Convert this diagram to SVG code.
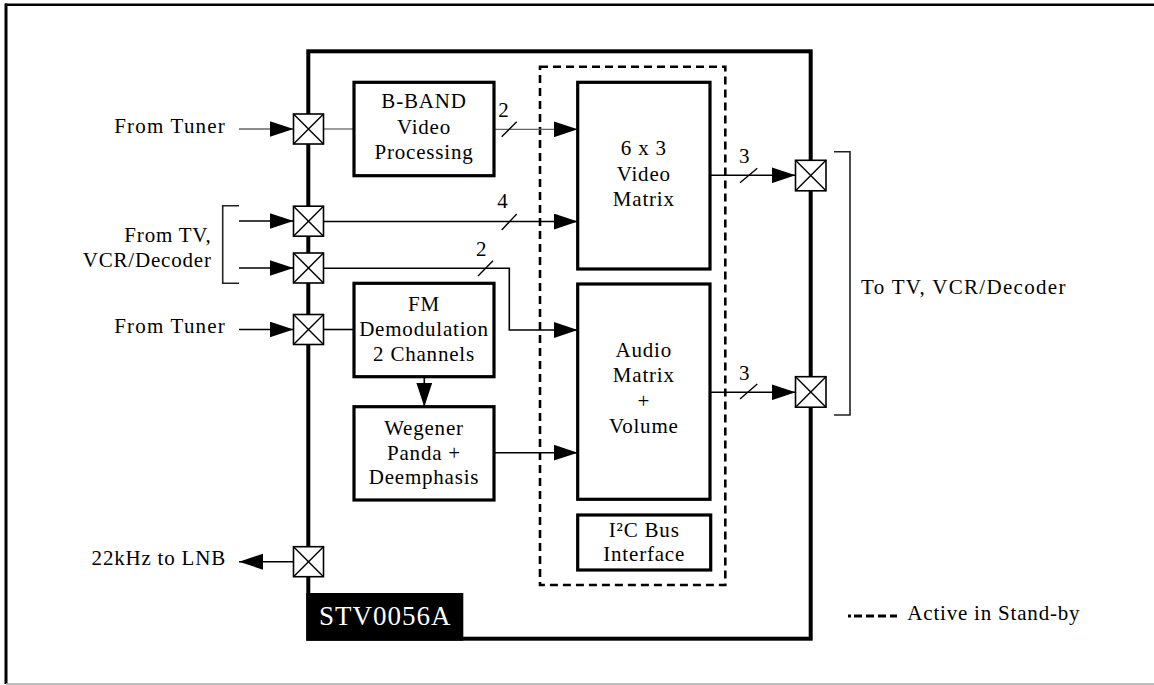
<svg xmlns="http://www.w3.org/2000/svg" width="1154" height="685" viewBox="0 0 1154 685">
<defs>
<marker id="ah" markerUnits="userSpaceOnUse" markerWidth="24" markerHeight="16" refX="24" refY="8" orient="auto">
<path d="M0,0 L24,8 L0,16 z" fill="#000"/>
</marker>
<style>
text{font-family:"Liberation Serif","Times New Roman",serif;font-size:21px;fill:#000;letter-spacing:0.8px}
.c{text-anchor:middle}
.e{text-anchor:end}
.box{fill:#fff;stroke:#000;stroke-width:3.2}
.port rect{fill:#fff;stroke:#000;stroke-width:1.6}
.port line{stroke:#000;stroke-width:1.4}
.w{fill:none;stroke:#000;stroke-width:1.6}
.g{fill:none;stroke:#666;stroke-width:1.3}
.sl{stroke:#000;stroke-width:1.4}
.br{fill:none;stroke:#222;stroke-width:1.6}
</style>
</defs>
<rect width="1154" height="685" fill="#fff"/>
<!-- outer frame -->
<line x1="5" y1="4.7" x2="1154" y2="4.7" stroke="#000" stroke-width="2.4"/>
<line x1="6" y1="3.5" x2="6" y2="684" stroke="#000" stroke-width="3"/>
<line x1="6" y1="684" x2="1154" y2="684" stroke="#aaa" stroke-width="1.5"/>

<!-- chip -->
<g id="chip">
<rect x="308.3" y="51.3" width="502.4" height="587.4" fill="none" stroke="#000" stroke-width="4"/>
<rect x="306.3" y="593" width="157" height="47.7" fill="#000"/>
<text x="319" y="625" style="font-size:27px;fill:#fff;letter-spacing:1px">STV0056A</text>
</g>

<!-- dashed standby region -->
<rect id="standby" x="540" y="66.7" width="185.3" height="518.3" fill="none" stroke="#000" stroke-width="2.6" stroke-dasharray="8 5"/>

<!-- connectors -->
<g id="connectors">
<line class="g" x1="239" y1="129" x2="293.5" y2="129" marker-end="url(#ah)"/>
<line class="g" x1="323.5" y1="129" x2="354" y2="129"/>
<line class="g" x1="494" y1="129.3" x2="577.7" y2="129.3" marker-end="url(#ah)"/>
<line class="sl" x1="501.7" y1="136.7" x2="516.7" y2="121.7"/>
<text class="c" x="504" y="117">2</text>

<polyline class="br" points="239,205.7 222.7,205.7 222.7,283.3 239,283.3"/>
<line class="w" x1="239" y1="221" x2="293.5" y2="221" marker-end="url(#ah)"/>
<line class="w" x1="239" y1="268" x2="293.5" y2="268" marker-end="url(#ah)"/>

<line class="w" x1="323.5" y1="221.5" x2="577.7" y2="221.5" marker-end="url(#ah)"/>
<line class="sl" x1="501.7" y1="230" x2="516.7" y2="214"/>
<text class="c" x="503" y="208">4</text>

<polyline class="w" points="323.5,268.3 509.3,268.3 509.3,330 577.7,330" marker-end="url(#ah)"/>
<line class="sl" x1="478" y1="276" x2="493" y2="260.7"/>
<text class="c" x="481.7" y="256">2</text>

<line class="w" x1="239" y1="329.5" x2="293.5" y2="329.5" marker-end="url(#ah)"/>
<line class="w" x1="323.5" y1="329.5" x2="354" y2="329.5"/>
<line class="w" x1="424.3" y1="376.7" x2="424.3" y2="406.7" marker-end="url(#ah)"/>
<line class="w" x1="494" y1="452.7" x2="577.7" y2="452.7" marker-end="url(#ah)"/>

<line class="w" x1="710" y1="175.3" x2="795.5" y2="175.3" marker-end="url(#ah)"/>
<line class="sl" x1="740" y1="182.7" x2="757.3" y2="168.3"/>
<text class="c" x="744.7" y="163.3">3</text>
<line class="w" x1="710" y1="392.3" x2="795.5" y2="392.3" marker-end="url(#ah)"/>
<line class="sl" x1="740" y1="399" x2="757.3" y2="384"/>
<text class="c" x="744.7" y="380">3</text>
<polyline class="br" points="834,151.7 850,151.7 850,415 834,415"/>

<line class="w" x1="293.5" y1="561.7" x2="239" y2="561.7" marker-end="url(#ah)"/>
</g>

<!-- ports -->
<g id="port-tuner1" class="port"><rect x="293.5" y="114" width="30" height="30"/><line x1="293.5" y1="114" x2="323.5" y2="144"/><line x1="323.5" y1="114" x2="293.5" y2="144"/></g>
<g id="port-tv1" class="port"><rect x="293.5" y="206.2" width="30" height="30"/><line x1="293.5" y1="206.2" x2="323.5" y2="236.2"/><line x1="323.5" y1="206.2" x2="293.5" y2="236.2"/></g>
<g id="port-tv2" class="port"><rect x="293.5" y="253" width="30" height="30"/><line x1="293.5" y1="253" x2="323.5" y2="283"/><line x1="323.5" y1="253" x2="293.5" y2="283"/></g>
<g id="port-tuner2" class="port"><rect x="293.5" y="314.5" width="30" height="30"/><line x1="293.5" y1="314.5" x2="323.5" y2="344.5"/><line x1="323.5" y1="314.5" x2="293.5" y2="344.5"/></g>
<g id="port-lnb" class="port"><rect x="293.5" y="546.7" width="30" height="30"/><line x1="293.5" y1="546.7" x2="323.5" y2="576.7"/><line x1="323.5" y1="546.7" x2="293.5" y2="576.7"/></g>
<g id="port-out1" class="port"><rect x="795.5" y="160.3" width="30.5" height="30.5"/><line x1="795.5" y1="160.3" x2="826" y2="190.8"/><line x1="826" y1="160.3" x2="795.5" y2="190.8"/></g>
<g id="port-out2" class="port"><rect x="795.5" y="376.7" width="30.5" height="30.5"/><line x1="795.5" y1="376.7" x2="826" y2="407.2"/><line x1="826" y1="376.7" x2="795.5" y2="407.2"/></g>

<!-- blocks -->
<g id="bband">
<rect class="box" x="354" y="82.3" width="140" height="93.4"/>
<text class="c" x="424" y="108">B-BAND</text>
<text class="c" x="424" y="134">Video</text>
<text class="c" x="424" y="159">Processing</text>
</g>
<g id="video-matrix">
<rect class="box" x="577.7" y="82.3" width="132.3" height="186.7"/>
<text class="c" x="643.8" y="155">6 x 3</text>
<text class="c" x="643.8" y="180.5">Video</text>
<text class="c" x="643.8" y="206">Matrix</text>
</g>
<g id="fm">
<rect class="box" x="354" y="283.3" width="140" height="93.4"/>
<text class="c" x="424" y="310.7">FM</text>
<text class="c" x="424" y="335.7">Demodulation</text>
<text class="c" x="424" y="360.7">2 Channels</text>
</g>
<g id="wegener">
<rect class="box" x="354" y="406.7" width="140" height="93.3"/>
<text class="c" x="424" y="435">Wegener</text>
<text class="c" x="424" y="460">Panda +</text>
<text class="c" x="424" y="484">Deemphasis</text>
</g>
<g id="audio-matrix">
<rect class="box" x="577.7" y="284" width="132.3" height="215.3"/>
<text class="c" x="643.8" y="357">Audio</text>
<text class="c" x="643.8" y="382">Matrix</text>
<text class="c" x="643.8" y="408">+</text>
<text class="c" x="643.8" y="433">Volume</text>
</g>
<g id="i2c">
<rect class="box" x="577.7" y="515" width="133" height="55"/>
<text class="c" x="644.2" y="536.7">I²C Bus</text>
<text class="c" x="644.2" y="561">Interface</text>
</g>

<!-- external labels -->
<g id="labels">
<text class="e" x="226" y="133.3" style="letter-spacing:1.2px">From Tuner</text>
<text class="e" x="211.7" y="241.7">From TV,</text>
<text class="e" x="211.7" y="266.7">VCR/Decoder</text>
<text class="e" x="226" y="333" style="letter-spacing:1.2px">From Tuner</text>
<text class="e" x="226" y="565">22kHz to LNB</text>
<text x="861" y="294.3" style="letter-spacing:1.3px">To TV, VCR/Decoder</text>
</g>

<!-- legend -->
<g id="legend">
<line x1="848" y1="616" x2="897" y2="616" stroke="#000" stroke-width="3" stroke-dasharray="3 3 8 4 8 4 8 4 8 4"/>
<text x="907.3" y="620">Active in Stand-by</text>
</g>
</svg>
